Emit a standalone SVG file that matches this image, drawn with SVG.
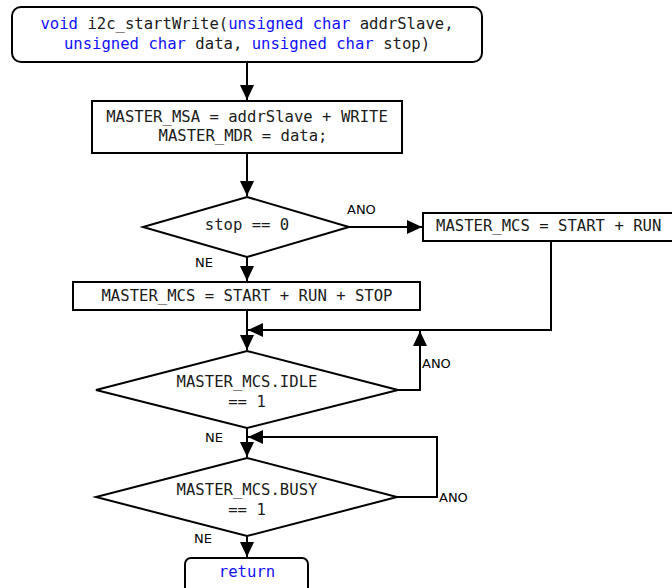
<svg xmlns="http://www.w3.org/2000/svg" width="672" height="588" viewBox="0 0 672 588">
  <style>
    .box { fill: #ffffff; stroke: #000000; stroke-width: 2; }
    .code { font-family: "DejaVu Sans Mono", "Liberation Mono", monospace; font-size: 15.6px; fill: #1a1a1a; }
    .kw { fill: #1010ff; }
    .lbl { font-family: "DejaVu Sans", "Liberation Sans", sans-serif; font-size: 13px; fill: #000000; }
    .edge { fill: none; stroke: #000000; stroke-width: 2; }
  </style>
  <defs>
    <marker id="arrow" markerUnits="userSpaceOnUse" markerWidth="16" markerHeight="16" refX="15" refY="7" orient="auto">
      <path d="M0,0 L15,7 L0,14 z" fill="#000000"/>
    </marker>
  </defs>

  <!-- connectors -->
  <g id="edges">
    <path class="edge" d="M247,62 V100" marker-end="url(#arrow)"/>
    <path class="edge" d="M247,153 V196" marker-end="url(#arrow)"/>
    <path class="edge" d="M349,227 H422" marker-end="url(#arrow)"/>
    <path class="edge" d="M247,257 V281" marker-end="url(#arrow)"/>
    <path class="edge" d="M551,241 V330 H248" marker-end="url(#arrow)"/>
    <path class="edge" d="M247,310 V350" marker-end="url(#arrow)"/>
    <path class="edge" d="M398,390 H420 V331" marker-end="url(#arrow)"/>
    <path class="edge" d="M247,428 V457" marker-end="url(#arrow)"/>
    <path class="edge" d="M397,497 H437 V437 H248" marker-end="url(#arrow)"/>
    <path class="edge" d="M247,536 V557" marker-end="url(#arrow)"/>
  </g>

  <!-- function entry -->
  <g id="start">
    <rect class="box" x="12" y="7" width="470" height="55" rx="9"/>
    <text class="code" x="247" y="29" text-anchor="middle" xml:space="preserve"><tspan class="kw">void</tspan> i2c_startWrite(<tspan class="kw">unsigned char</tspan> addrSlave,</text>
    <text class="code" x="247" y="49" text-anchor="middle" xml:space="preserve"><tspan class="kw">unsigned char</tspan> data, <tspan class="kw">unsigned char</tspan> stop)</text>
  </g>

  <g id="set_addr">
    <rect class="box" x="92" y="101" width="310" height="52"/>
    <text class="code" x="247" y="122" text-anchor="middle">MASTER_MSA = addrSlave + WRITE</text>
    <text class="code" x="243" y="141" text-anchor="middle">MASTER_MDR = data;</text>
  </g>

  <g id="check_stop">
    <polygon class="box" points="247,197 349,227 247,257 143,227"/>
    <text class="code" x="247" y="230" text-anchor="middle">stop == 0</text>
    <text class="lbl" x="347" y="214">ANO</text>
    <text class="lbl" x="195" y="267">NE</text>
  </g>

  <g id="mcs_run">
    <rect class="box" x="423" y="213" width="262" height="28"/>
    <text class="code" x="436" y="231">MASTER_MCS = START + RUN</text>
  </g>

  <g id="mcs_run_stop">
    <rect class="box" x="73" y="282" width="347" height="28"/>
    <text class="code" x="247" y="301" text-anchor="middle">MASTER_MCS = START + RUN + STOP</text>
  </g>

  <g id="wait_idle">
    <polygon class="box" points="247,351 398,390 247,428 96,390"/>
    <text class="code" x="247" y="387" text-anchor="middle">MASTER_MCS.IDLE</text>
    <text class="code" x="247" y="407" text-anchor="middle">== 1</text>
    <text class="lbl" x="422" y="368">ANO</text>
    <text class="lbl" x="205" y="442">NE</text>
  </g>

  <g id="wait_busy">
    <polygon class="box" points="247,458 397,497 247,536 96,497"/>
    <text class="code" x="247" y="495" text-anchor="middle">MASTER_MCS.BUSY</text>
    <text class="code" x="247" y="515" text-anchor="middle">== 1</text>
    <text class="lbl" x="439" y="502">ANO</text>
    <text class="lbl" x="194" y="543">NE</text>
  </g>

  <g id="end">
    <rect class="box" x="185" y="558" width="123" height="40" rx="6"/>
    <text class="code kw" x="247" y="577" text-anchor="middle">return</text>
  </g>
</svg>
